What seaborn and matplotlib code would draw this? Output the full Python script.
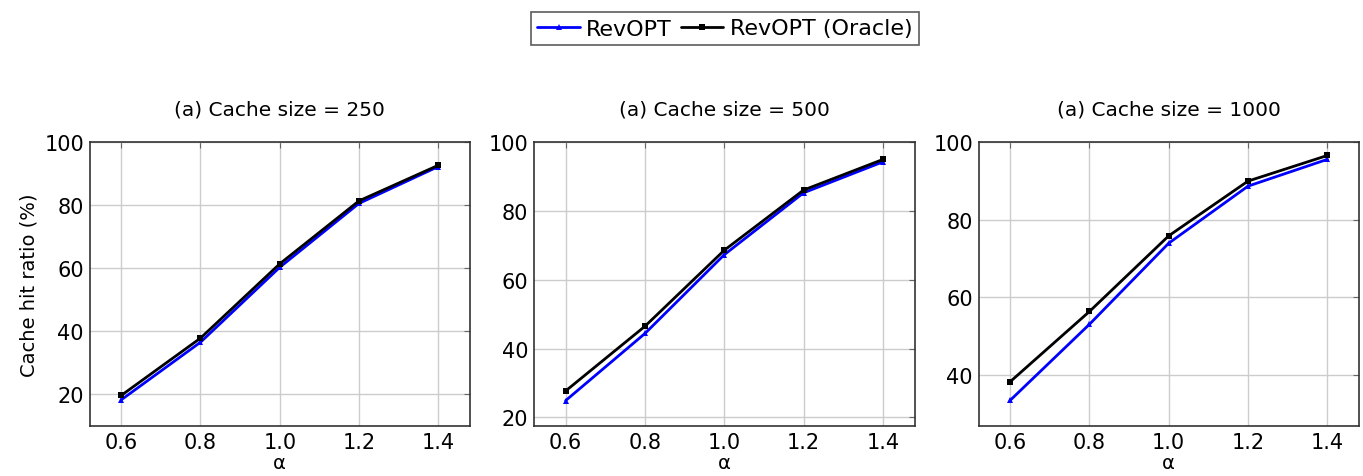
import matplotlib
matplotlib.use("Agg")
import matplotlib.pyplot as plt
import seaborn as sns
import pandas as pd

alpha = [0.6, 0.8, 1.0, 1.2, 1.4]
cache_sizes = [250, 500, 1000]
revopt_250 = [18.2, 36.5, 60.3, 80.6, 92.3]
oracle_250 = [19.6, 37.8, 61.4, 81.4, 92.7]
revopt_500 = [24.9, 44.4, 67.3, 85.3, 94.3]
oracle_500 = [27.7, 46.5, 68.6, 86.1, 95.0]
revopt_1000 = [33.5, 53.1, 74.0, 88.7, 95.6]
oracle_1000 = [38.3, 56.4, 75.9, 90.0, 96.6]
series_names = ["RevOPT", "RevOPT (Oracle)"]

revopt = {250: revopt_250, 500: revopt_500, 1000: revopt_1000}
oracle = {250: oracle_250, 500: oracle_500, 1000: oracle_1000}

rows = []
for cs in cache_sizes:
    for a, v in zip(alpha, revopt[cs]):
        rows.append({"cache": cs, "alpha": a, "hit": v, "method": series_names[0]})
    for a, v in zip(alpha, oracle[cs]):
        rows.append({"cache": cs, "alpha": a, "hit": v, "method": series_names[1]})
df = pd.DataFrame(rows)

sns.set_style("whitegrid")
plt.rcParams["font.family"] = ["DejaVu Sans"]
plt.rcParams["text.color"] = "black"
plt.rcParams["axes.labelcolor"] = "black"
plt.rcParams["xtick.labelcolor"] = "black"
plt.rcParams["ytick.labelcolor"] = "black"

fig = plt.figure(figsize=(13.63, 4.77), dpi=100)
W, H = 1363, 477
lefts = [89.5, 534, 978.5]
aw = 380.5
top, bottom = 143.3, 427.3
ylims = [(9.8, 100), (17.4, 100), (26.8, 100)]
yticks = [[20, 40, 60, 80, 100], [20, 40, 60, 80, 100], [40, 60, 80, 100]]

palette = {series_names[0]: "#0000ff", series_names[1]: "#000000"}
markers = {series_names[0]: "^", series_names[1]: "s"}

axes = []
for i, cs in enumerate(cache_sizes):
    ax = fig.add_axes([lefts[i] / W, 1 - bottom / H, aw / W, (bottom - top) / H])
    sub = df[df["cache"] == cs]
    sns.lineplot(data=sub, x="alpha", y="hit", hue="method", style="method",
                 palette=palette, markers=markers, dashes=False,
                 linewidth=2, markersize=5, markeredgewidth=0,
                 ax=ax, legend=(i == 0), hue_order=series_names, style_order=series_names)
    ax.set_xlim(0.52, 1.48)
    ax.set_ylim(*ylims[i])
    ax.set_xticks(alpha)
    ax.set_xticklabels([f"{a:.1f}" for a in alpha])
    ax.set_yticks(yticks[i])
    ax.grid(True, color="#cccccc", linewidth=1)
    for sp in ax.spines.values():
        sp.set_color("#333333")
        sp.set_linewidth(1.2)
    ax.tick_params(axis="both", direction="in", length=4, color="#666666",
                   labelsize=15, top=True, right=True, pad=4)
    ax.set_xlabel("α", fontsize=14, labelpad=1)
    ax.set_ylabel("Cache hit ratio (%)" if i == 0 else "", fontsize=14)
    ax.set_title(f"(a) Cache size = {cs}", fontsize=14.5, pad=20)
    axes.append(ax)

handles, labels = axes[0].get_legend_handles_labels()
axes[0].get_legend().remove()
leg = fig.legend(handles, labels, loc="center", bbox_to_anchor=(725 / W, 1 - 29.5 / H),
                 ncol=2, frameon=True, fontsize=16, handlelength=1.9,
                 columnspacing=0.4, handletextpad=0.3, borderpad=0.3, fancybox=False)
leg.get_frame().set_edgecolor("#333333")
leg.get_frame().set_linewidth(1.2)

fig.savefig("out.png", dpi=100)
